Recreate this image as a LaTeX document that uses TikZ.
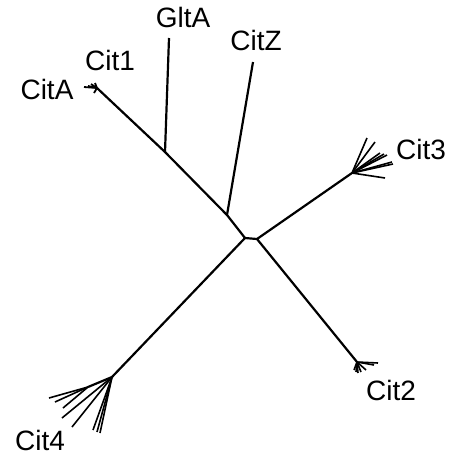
\documentclass[tikz,border=0pt]{standalone}
\usepackage{fontspec}
\setmainfont{Liberation Sans}

\begin{document}
\begin{tikzpicture}[x=1pt,y=-1pt,line width=2.2pt,
    taxon/.style={font=\fontsize{28}{32}\selectfont, inner sep=0pt}]
    \useasboundingbox (0,0) rectangle (452,459);
    % inner joints
    \coordinate (jl) at (245,238);
    \coordinate (jr) at (257,239);
    \coordinate (jz) at (227,215);
    \coordinate (jg) at (165,152);
    \coordinate (ja) at (97,88);
    \coordinate (j3) at (352,173);
    \coordinate (j2) at (357,362);
    \coordinate (j4) at (112,377);
    \coordinate (j4b) at (88,387);
    \coordinate (tz) at (253,62);
    \coordinate (tg) at (169,38);
    % labels
    \node[taxon] (citA) at (47,89) {CitA};
    \node[taxon] (cit1) at (110,60) {Cit1};
    \node[taxon] (gltA) at (183,17) {GltA};
    \node[taxon] (citZ) at (256,40) {CitZ};
    \node[taxon] (cit3) at (421,149) {Cit3};
    \node[taxon] (cit2) at (391,390) {Cit2};
    \node[taxon] (cit4) at (40,440) {Cit4};
    % backbone
    \draw (jl) -- (jr);
    \draw (jl) -- (jz) -- (jg) -- (ja);
    \draw (jz) -- (tz);
    \draw (jg) -- (tg);
    \draw (jr) -- (j3);
    \draw (jr) -- (j2);
    \draw (jl) -- (j4);
    % tufts
    \foreach \p in {(84,87),(88,86),(91,84),(95,83),(94,93)}
      \draw[line width=1.8pt] (ja) -- \p;
    \foreach \p in {(367,138),(375,142),(380,153),(384,154),(387,155),(392,162),(393,164),(385,178)}
      \draw[line width=1.6pt] (j3) -- \p;
    \foreach \p in {(354,370),(356,372),(358,373),(361,372),(366,370),(374,365),(378,363)}
      \draw[line width=1.6pt] (j2) -- \p;
    \draw (j4) -- (j4b);
    \foreach \p in {(49,398),(55,402),(63,408)}
      \draw[line width=1.6pt] (j4b) -- \p;
    \foreach \p in {(62,418),(72,427),(93,430),(97,432),(100,433)}
      \draw[line width=1.6pt] (j4) -- \p;
\end{tikzpicture}
\end{document}
